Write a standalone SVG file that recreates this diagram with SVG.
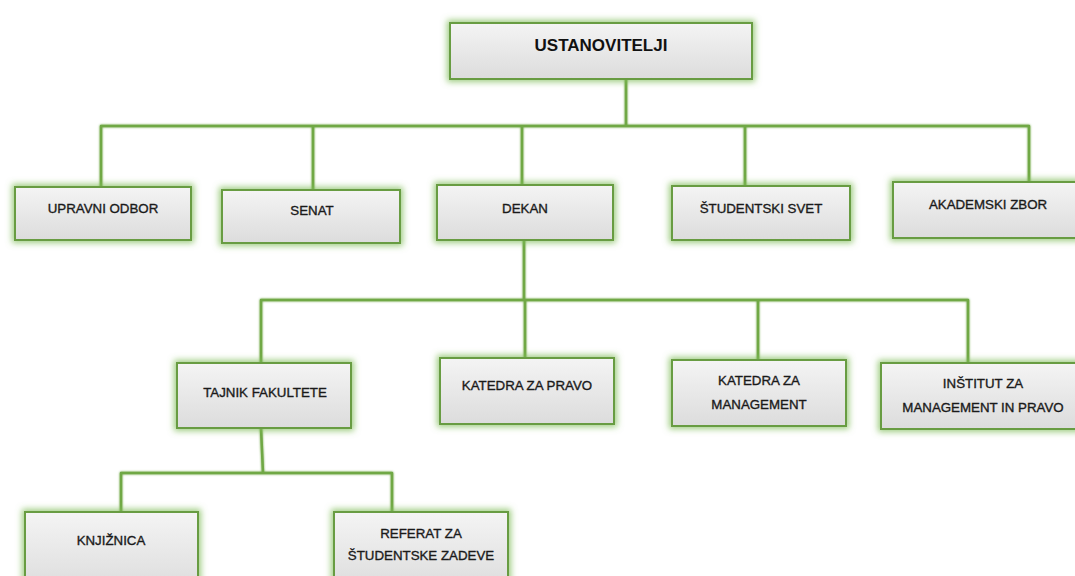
<svg xmlns="http://www.w3.org/2000/svg" width="1075" height="576" viewBox="0 0 1075 576">
<defs>
<linearGradient id="boxfill" x1="0" y1="0" x2="0" y2="1">
<stop offset="0" stop-color="#f4f4f4"/>
<stop offset="1" stop-color="#dcdcdc"/>
</linearGradient>
<filter id="glow" x="-20%" y="-30%" width="140%" height="160%">
<feMorphology in="SourceAlpha" operator="dilate" radius="2" result="d"/>
<feGaussianBlur in="d" stdDeviation="3" result="b"/>
<feFlood flood-color="#7dbb55" flood-opacity="0.75"/>
<feComposite in2="b" operator="in" result="g"/>
<feMerge><feMergeNode in="g"/><feMergeNode in="SourceGraphic"/></feMerge>
</filter>
<filter id="lglow" x="-5%" y="-5%" width="110%" height="110%" filterUnits="userSpaceOnUse">
<feGaussianBlur in="SourceGraphic" stdDeviation="1.3" result="b"/>
<feMerge><feMergeNode in="b"/><feMergeNode in="SourceGraphic"/></feMerge>
</filter>
</defs>
<style>
.box{fill:url(#boxfill);stroke:#689c43;stroke-width:2;filter:url(#glow)}
.t{font-family:"Liberation Sans",Arial,sans-serif;font-size:13.3px;fill:#1a1a1a;stroke:#1a1a1a;stroke-width:0.35;text-anchor:middle}
.tb{font-family:"Liberation Sans",Arial,sans-serif;font-size:17px;font-weight:bold;fill:#111;text-anchor:middle}
.c{fill:none;stroke:#6fa845;stroke-width:2.5;stroke-linecap:round}
</style>
<g id="connectors" filter="url(#lglow)">
<path class="c" d="M626,79 V126 M101,126 H1029 M101,126 V187 M313,126 V190 M522,126 V185 M745,126 V186 M1029,126 V182"/>
<path class="c" d="M524,240 V300 M261,300 H968 M261,300 V363 M525,300 V358 M758,300 V360 M968,300 V363"/>
<path class="c" d="M261,428 L263,473 M121,473 H392 M121,473 V512 M392,473 V512"/>
</g>
<g id="ustanovitelji"><rect class="box" x="450" y="23" width="302" height="56"/><text class="tb" x="601" y="51">USTANOVITELJI</text></g>
<g id="upravni-odbor"><rect class="box" x="15" y="187" width="176" height="53"/><text class="t" x="103" y="213">UPRAVNI ODBOR</text></g>
<g id="senat"><rect class="box" x="222" y="190" width="178" height="53"/><text class="t" x="312" y="215">SENAT</text></g>
<g id="dekan"><rect class="box" x="437" y="185" width="176" height="55"/><text class="t" x="525" y="213">DEKAN</text></g>
<g id="studentski-svet"><rect class="box" x="672" y="186" width="178" height="54"/><text class="t" x="761" y="213">ŠTUDENTSKI SVET</text></g>
<g id="akademski-zbor"><rect class="box" x="893" y="182" width="185" height="56"/><text class="t" x="988" y="209">AKADEMSKI ZBOR</text></g>
<g id="tajnik-fakultete"><rect class="box" x="177" y="363" width="174" height="65"/><text class="t" x="265" y="397">TAJNIK FAKULTETE</text></g>
<g id="katedra-za-pravo"><rect class="box" x="440" y="358" width="174" height="66"/><text class="t" x="527" y="390">KATEDRA ZA PRAVO</text></g>
<g id="katedra-za-management"><rect class="box" x="672" y="360" width="174" height="66"/><text class="t" x="759" y="385">KATEDRA ZA</text><text class="t" x="759" y="409">MANAGEMENT</text></g>
<g id="institut"><rect class="box" x="881" y="363" width="200" height="66"/><text class="t" x="983" y="388">INŠTITUT ZA</text><text class="t" x="983" y="412">MANAGEMENT IN PRAVO</text></g>
<g id="knjiznica"><rect class="box" x="25" y="512" width="173" height="80"/><text class="t" x="111" y="545">KNJIŽNICA</text></g>
<g id="referat"><rect class="box" x="334" y="512" width="174" height="80"/><text class="t" x="421" y="538">REFERAT ZA</text><text class="t" x="421" y="560">ŠTUDENTSKE ZADEVE</text></g>
</svg>
